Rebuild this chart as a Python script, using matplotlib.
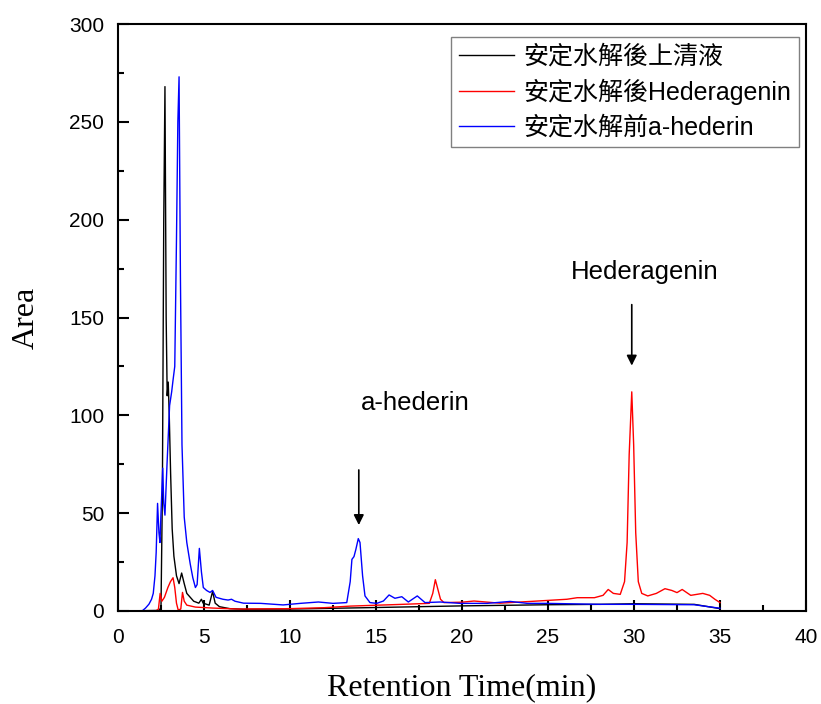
import numpy as np
import matplotlib
matplotlib.use("Agg")
import matplotlib.pyplot as plt
from matplotlib.ticker import MultipleLocator

# ---------------- Data ----------------
# black: supernatant after stable hydrolysis
black_t = [0, 2.4, 2.5, 2.58, 2.66, 2.73, 2.8, 2.86, 2.92, 2.98, 3.06, 3.15, 3.25,
           3.4, 3.55, 3.7, 3.85, 4.0, 4.2, 4.4, 4.7, 4.85, 4.95, 5.3, 5.5, 5.65,
           5.9, 6.5, 7.3, 10.0, 14.5, 19.9, 25.0, 28.0, 30.0, 33.5, 35.0]
black_y = [0, 0.3, 2, 60, 200, 268, 150, 110, 117, 100, 70, 42, 28,
           18, 14, 19.4, 14, 9, 7, 5, 4, 6, 4, 3, 10, 4,
           2.2, 1.2, 0.9, 1.0, 1.7, 2.6, 3.2, 3.4, 3.7, 3.4, 1.2]

# red: Hederagenin after stable hydrolysis
red_t = [0, 2.2, 2.35, 2.45, 2.55, 2.7, 2.9, 3.05, 3.2, 3.3, 3.4, 3.5, 3.65,
         3.75, 3.85, 4.0, 4.5, 5.5, 7.0, 10.0, 12.0, 13.5, 16.2, 18.1, 18.3,
         18.45, 18.6, 18.75, 18.95, 20.0, 20.7, 22.2, 24.2, 26.1, 26.7, 27.7,
         28.2, 28.5, 28.8, 29.2, 29.45, 29.6, 29.72, 29.87, 29.98, 30.1, 30.25,
         30.45, 30.8, 31.3, 31.8, 32.2, 32.5, 32.8, 33.3, 34.0, 34.4, 34.7, 35.0]
red_y = [0, 0, 1, 9, 5, 7, 12, 15, 17, 12, 4, 0.5, 1,
         9.5, 5, 3, 2, 1.5, 1, 1.2, 1.7, 2.5, 3.3, 3.9, 9,
         16, 11, 6, 4.3, 4.5, 5.1, 4, 5, 6, 6.8, 6.8,
         8, 11, 9, 8.5, 15, 35, 80, 112, 85, 40, 15,
         9, 7.7, 9, 11.4, 10.5, 9.4, 11, 8, 9, 8, 6, 4.3]

# blue: a-hederin before stable hydrolysis
blue_t = [0, 1.4, 1.6, 1.8, 1.95, 2.05, 2.15, 2.22, 2.3, 2.38, 2.44, 2.5, 2.6,
          2.66, 2.73, 2.85, 3.0, 3.12, 3.2, 3.3, 3.4, 3.48, 3.55, 3.63, 3.72,
          3.85, 4.0, 4.2, 4.35, 4.5, 4.6, 4.73, 4.85, 4.96, 5.15, 5.35, 5.5,
          5.7, 6.1, 6.4, 6.6, 6.8, 7.3, 8.3, 9.6, 10.6, 11.65, 12.5, 13.3,
          13.5, 13.6, 13.72, 13.83, 13.97, 14.07, 14.22, 14.36, 14.65, 15.04,
          15.43, 15.76, 16.1, 16.5, 16.88, 17.4, 17.85, 18.73, 19.9, 21.45,
          22.8, 23.8, 24.95, 28.05, 30.0, 33.5, 35.0]
blue_y = [0, 0, 1.5, 3.5, 6, 9, 18, 30, 55, 40, 35, 50, 73,
          55, 49, 75, 105, 112, 118, 125, 190, 250, 273, 170, 85,
          48, 35, 24, 17, 12, 13.5, 32, 20, 12, 10.5, 9.5, 10.5,
          7, 6, 5.6, 6, 5, 4, 3.9, 3.1, 3.9, 4.6, 3.9, 4.3,
          15, 26.4, 27.8, 31.5, 37, 35, 18, 7.7, 4.3, 3.9,
          5.1, 8.2, 6.5, 7.3, 4.6, 7.7, 4.3, 4.6, 3.9, 3.9,
          4.9, 3.9, 3.9, 3.4, 3.4, 3.2, 1.4]

labels = ["安定水解後上清液", "安定水解後Hederagenin", "安定水解前a-hederin"]

# ---------------- Figure ----------------
fig = plt.figure(figsize=(8.21, 7.04), dpi=100)
ax = fig.add_axes([118/821, 1 - 611/704, 688/821, 587/704])

ax.plot(black_t, black_y, color="black", lw=1.0, label=labels[0])
ax.plot(red_t, red_y, color="red", lw=1.0, label=labels[1])
ax.plot(blue_t, blue_y, color="blue", lw=1.0, label=labels[2])

ax.set_xlim(0, 40)
ax.set_ylim(0, 300)
ax.xaxis.set_major_locator(MultipleLocator(5))
ax.xaxis.set_minor_locator(MultipleLocator(2.5))
ax.yaxis.set_major_locator(MultipleLocator(50))
ax.yaxis.set_minor_locator(MultipleLocator(25))
ax.tick_params(which="major", direction="in", length=8, width=1.5)
ax.tick_params(which="minor", direction="in", length=4.5, width=1.5)
ax.tick_params(axis="x", pad=12)
ax.tick_params(axis="y", pad=10)
for lab in ax.get_xticklabels() + ax.get_yticklabels():
    lab.set_family("Liberation Sans")
    lab.set_fontsize(15)
for s in ax.spines.values():
    s.set_linewidth(1.5)

ax.set_xlabel("Retention Time(min)", family="Liberation Serif", fontsize=23, labelpad=19)
ax.set_ylabel("Area", family="Liberation Serif", fontsize=23, labelpad=20)

# ---------------- Peak annotations ----------------
arrow = dict(arrowstyle="-|>", color="black", lw=1.2, mutation_scale=15)
ax.annotate("", xy=(14.0, 42.5), xytext=(14.0, 73.5), arrowprops=arrow)
ax.annotate("", xy=(29.87, 124), xytext=(29.87, 158), arrowprops=arrow)
ax.text(17.3, 106.5, "a-hederin", family="Liberation Sans", fontsize=18.5,
        ha="center", va="center")
ax.text(30.6, 173, "Hederagenin", family="Liberation Sans", fontsize=18.5,
        ha="center", va="center")

leg = ax.legend(loc="upper right", bbox_to_anchor=(0.9898, 0.978), borderaxespad=0,
                prop={"family": ["Liberation Sans", "Noto Sans CJK TC"], "size": 18},
                frameon=True, fancybox=False, framealpha=1, edgecolor="#808080",
                handlelength=2.2, handletextpad=0.4, labelspacing=0.42,
                borderpad=0.3)
leg.get_frame().set_linewidth(1.0)

fig.savefig("out.png", dpi=100)
